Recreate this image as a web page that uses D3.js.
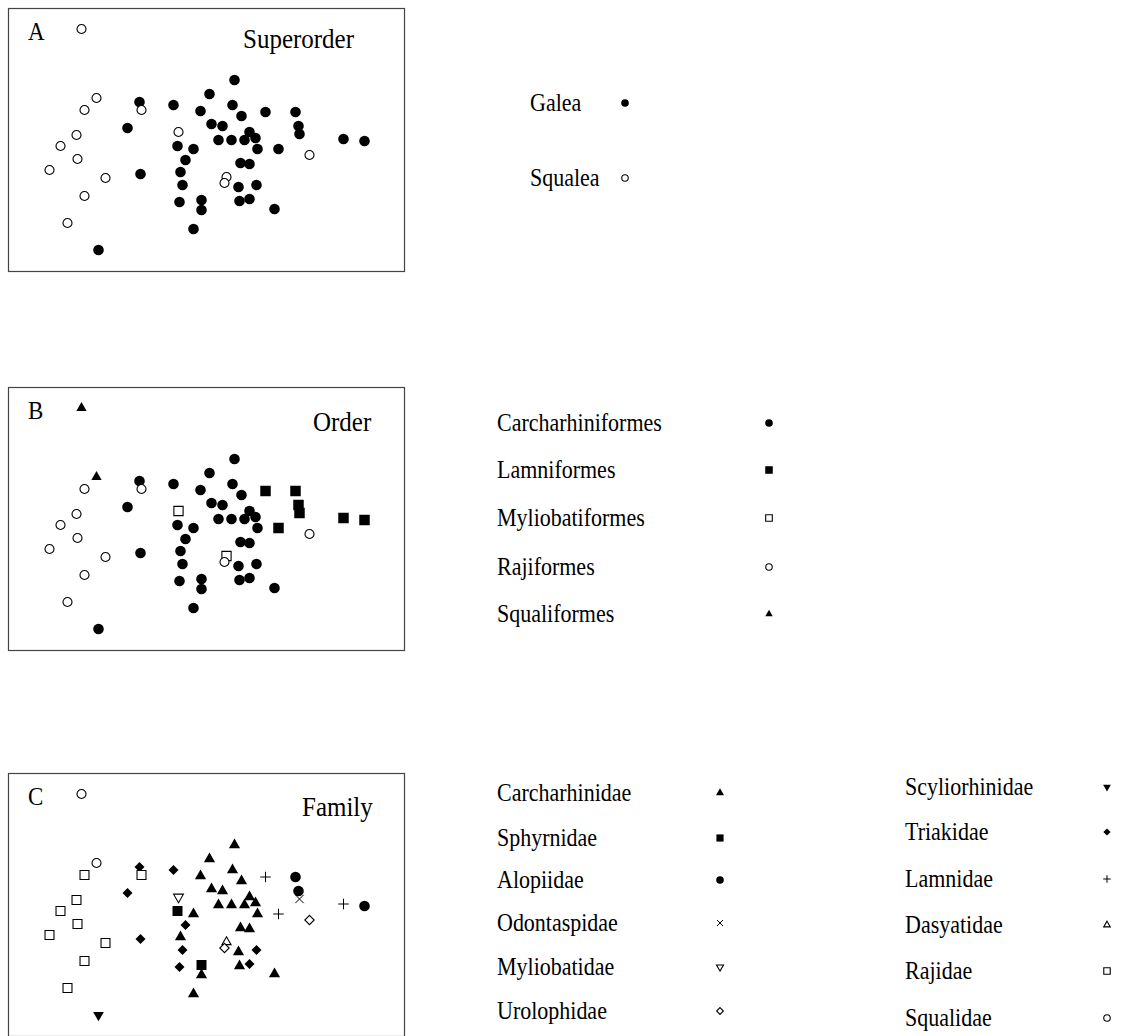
<!DOCTYPE html>
<html>
<head>
<meta charset="utf-8">
<script src="https://cdn.jsdelivr.net/npm/d3@7"></script>
<style>
  body { margin: 0; background: #fff; }
  text { font-family: "Times New Roman", "Liberation Serif", serif; fill: #000; }
</style>
</head>
<body>
<div id="chart"></div>
<script>
// MDS coordinates (same ordination in all three panels)
var dim1 = [0.28, 0.03, -0.67, -0.33, 0.26, -0.06, 0.35, 0.59, 0.89, -0.79,
  0.05, 0.16, 0.92, 0.93, 0.43, 0.12, 0.25, 0.38, 0.49, -0.29,
  -0.13, 0.51, 0.72, 1.37, 1.58, -0.21, 0.34, 0.43, -0.66, -0.26,
  -0.24, 0.32, 0.50, -0.27, -0.05, -0.05, 0.33, 0.43, 0.68, -0.13,
  -1.08,
  -1.25, -1.10, -1.22, -0.65, -0.28, -1.30, -1.46, -1.29, -1.57, -1.01,
  0.20, 0.18, 1.03, -1.22, -1.39];
var dim2 = [0.60, 0.46, 0.38, 0.35, 0.35, 0.29, 0.24, 0.28, 0.28, 0.12,
  0.16, 0.14, 0.14, 0.06, 0.08, 0.00, 0.00, 0.00, 0.02, -0.06,
  -0.09, -0.09, -0.09, 0.01, -0.01, -0.20, -0.23, -0.24, -0.34, -0.32,
  -0.45, -0.47, -0.45, -0.62, -0.60, -0.70, -0.61, -0.59, -0.69, -0.89,
  -1.10,
  1.11, 0.42, 0.30, 0.30, 0.08, 0.05, -0.06, -0.19, -0.30, -0.38,
  -0.37, -0.43, -0.15, -0.56, -0.83];

var CA = "Carcharhinidae", TR = "Triakidae", LA = "Lamnidae", AL = "Alopiidae",
  OD = "Odontaspidae", SP = "Sphyrnidae", SC = "Scyliorhinidae", SQ = "Squalidae",
  RA = "Rajidae", MY = "Myliobatidae", DA = "Dasyatidae", UR = "Urolophidae";

var family = [CA, CA, TR, TR, CA, CA, CA, LA, AL, TR,
  CA, CA, AL, OD, CA, CA, CA, CA, CA, SP,
  CA, CA, LA, LA, AL, TR, CA, CA, TR, CA,
  TR, CA, TR, TR, SP, CA, CA, TR, CA, CA,
  SC,
  SQ, SQ, RA, RA, MY, RA, RA, RA, RA, RA,
  DA, UR, UR, RA, RA];

var order = family.map(function(f) {
  if (f === LA || f === AL || f === OD) return "Lamniformes";
  if (f === SQ) return "Squaliformes";
  if (f === MY || f === DA) return "Myliobatiformes";
  if (f === RA || f === UR) return "Rajiformes";
  return "Carcharhiniformes";
});
var superorder = dim1.map(function(d, i) { return i < 41 ? "Galea" : "Squalea"; });

var superorders = ["Galea", "Squalea"];
var orders = ["Carcharhiniformes", "Lamniformes", "Myliobatiformes", "Rajiformes", "Squaliformes"];
var familiesLeft = [CA, SP, AL, OD, MY, UR];
var familiesRight = [SC, TR, LA, DA, RA, SQ];

// symbol shapes
var diamond = { draw: function(ctx, size) {
  var r = Math.sqrt(size / 2);
  ctx.moveTo(0, -r); ctx.lineTo(r, 0); ctx.lineTo(0, r); ctx.lineTo(-r, 0); ctx.closePath();
} };
var plus = { draw: function(ctx, size) {
  var r = Math.sqrt(size) / 2;
  ctx.moveTo(-r, 0); ctx.lineTo(r, 0); ctx.moveTo(0, -r); ctx.lineTo(0, r);
} };
var times = { draw: function(ctx, size) {
  var r = Math.sqrt(size) / 2;
  ctx.moveTo(-r, -r); ctx.lineTo(r, r); ctx.moveTo(-r, r); ctx.lineTo(r, -r);
} };

function sty(type, filled, size, rot) {
  return { type: type, filled: filled, size: size, rot: rot || 0 };
}

var styles = {
  Galea: sty(d3.symbolCircle, true, 88),
  Squalea: sty(d3.symbolCircle, false, 64),
  Carcharhiniformes: sty(d3.symbolCircle, true, 88),
  Lamniformes: sty(d3.symbolSquare, true, 110),
  Myliobatiformes: sty(d3.symbolSquare, false, 85),
  Rajiformes: sty(d3.symbolCircle, false, 64),
  Squaliformes: sty(d3.symbolTriangle, true, 46)
};
styles[CA] = sty(d3.symbolTriangle, true, 54);
styles[SP] = sty(d3.symbolSquare, true, 100);
styles[AL] = sty(d3.symbolCircle, true, 88);
styles[OD] = sty(times, "line", 70);
styles[MY] = sty(d3.symbolTriangle, false, 42, 180);
styles[UR] = sty(diamond, false, 44);
styles[SC] = sty(d3.symbolTriangle, true, 50, 180);
styles[TR] = sty(diamond, true, 50);
styles[LA] = sty(plus, "line", 110);
styles[DA] = sty(d3.symbolTriangle, false, 36);
styles[RA] = sty(d3.symbolSquare, false, 80);
styles[SQ] = sty(d3.symbolCircle, false, 64);

var svg = d3.select("#chart").append("svg")
  .attr("width", 1122)
  .attr("height", 1036);

var boxW = 397, boxH = 264;
var x = d3.scaleLinear().domain([-1.985, 1.985]).range([0, boxW]);
var y = d3.scaleLinear().domain([1.32, -1.32]).range([0, boxH]);

function drawSymbol(g, s, px, py, scale) {
  var k = scale || 1;
  var p = g.append("path")
    .attr("d", d3.symbol().type(s.type).size(s.size * k * k)())
    .attr("transform", "translate(" + px + "," + py + ")" + (s.rot ? " rotate(" + s.rot + ")" : ""));
  if (s.filled === "line") {
    p.attr("fill", "none").attr("stroke", "#000").attr("stroke-width", 1);
  } else if (s.filled) {
    p.attr("fill", "#000");
  } else {
    p.attr("fill", "#fff").attr("stroke", "#000").attr("stroke-width", 1.1);
  }
}

// text slightly taller than wide, as in the scanned figure
function label(g, tx, ty, size, str) {
  g.append("text")
    .attr("transform", "translate(" + tx + "," + ty + ") scale(1,1.1)")
    .style("font-size", size + "px")
    .text(str);
}

var panels = [
  { top: 8, letter: "A", title: "Superorder", tx: 243, ty: 40, cat: superorder },
  { top: 387, letter: "B", title: "Order", tx: 313, ty: 44, cat: order },
  { top: 773, letter: "C", title: "Family", tx: 302, ty: 43, cat: family }
];

panels.forEach(function(p) {
  var g = svg.append("g").attr("transform", "translate(8," + p.top + ")");
  g.append("rect")
    .attr("x", 0.5).attr("y", 0.5)
    .attr("width", boxW - 1).attr("height", boxH - 1)
    .attr("fill", "none").attr("stroke", "#444").attr("stroke-width", 1.2);
  label(g, 20, 32, 23, p.letter);
  label(g, p.tx - 8, p.ty, 25, p.title);
  // galea first, squalea drawn on top
  dim1.forEach(function(d, i) {
    drawSymbol(g, styles[p.cat[i]], x(dim1[i]), y(dim2[i]));
  });
});

// legends
function legend(items, tx, sx, ys) {
  items.forEach(function(name, i) {
    label(svg, tx, ys[i] + 7.5, 22, name);
    drawSymbol(svg, styles[name], sx, ys[i], 0.72);
  });
}

legend(superorders, 530, 625, [103, 178]);
legend(orders, 497, 769, [423, 470, 518, 567, 614]);
legend(familiesLeft, 497, 720, [793, 838, 880, 923, 967, 1011]);
legend(familiesRight, 905, 1107, [787, 832, 879, 925, 971, 1018]);
</script>
</body>
</html>
